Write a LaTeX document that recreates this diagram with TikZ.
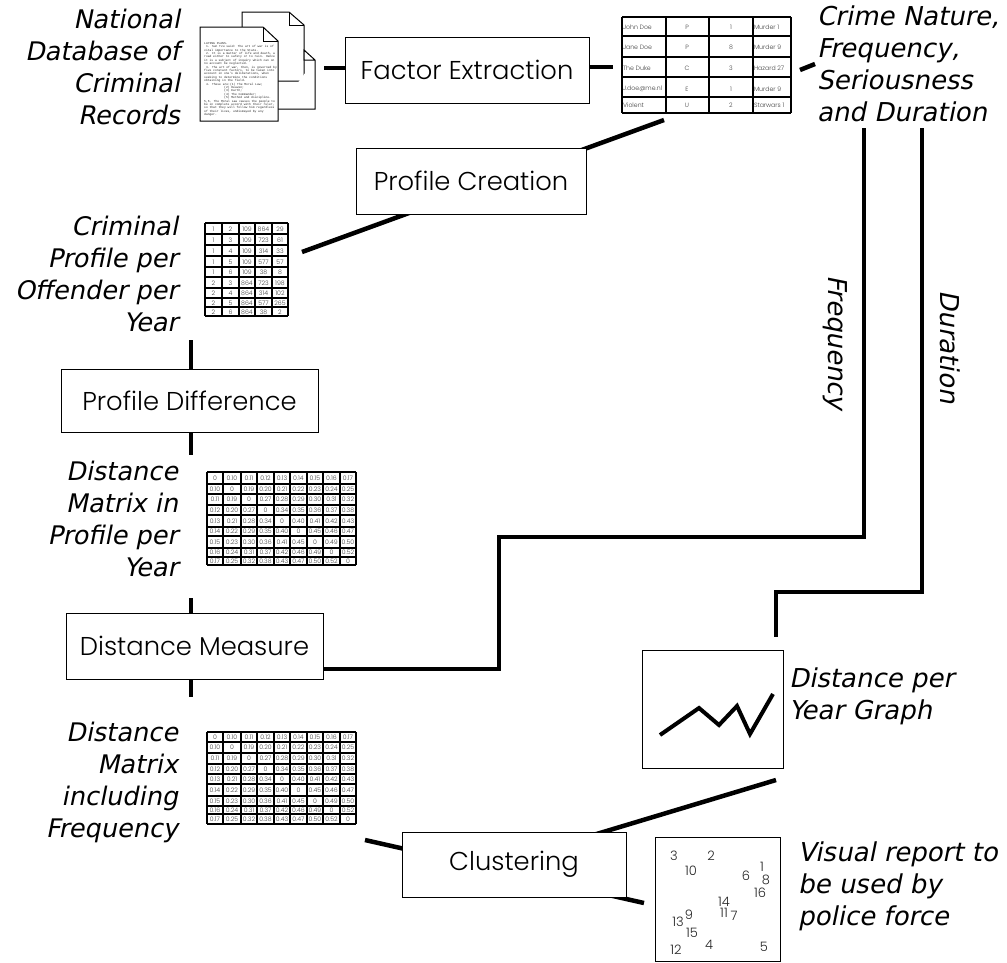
\documentclass[tikz,border=0pt]{standalone}
\usepackage{fontspec}
\newfontfamily\lblfont[FakeSlant=0.2]{DejaVu Sans}
\newfontfamily\boxfont{Poppins Light}
\newfontfamily\docfont{Liberation Mono}
\tikzset{
  x=1pt,y=-1pt,
  labeltext/.style={font=\lblfont\fontsize{26}{32}\selectfont,inner sep=0pt,outer sep=0pt},
  leftlabel/.style={font=\lblfont\fontsize{25.6}{32}\selectfont,inner sep=0pt,outer sep=0pt,align=right,anchor=north east},
  rightlabel/.style={labeltext,align=left,anchor=north west},
  procbox/.style={draw=black,fill=white,line width=1pt,inner sep=0pt,outer sep=0pt,font=\boxfont\fontsize{25.8}{30}\selectfont},
  conn/.style={line width=4.5pt,black,line join=miter},
  page/.style={draw=black,fill=white,line width=1pt},
  grid/.style={line width=1.1pt,black},
  cell/.style={inner sep=0pt,outer sep=0pt,font=\boxfont\fontsize{6.2}{7}\selectfont,text=black!75},
  num/.style={inner sep=0pt,outer sep=0pt,font=\boxfont\fontsize{13}{14}\selectfont,text=black!85},
}
\begin{document}
\begin{tikzpicture}
\useasboundingbox (0,0) rectangle (1007,962);
% free ends
\coordinate (docR) at (324,68);
\coordinate (tabL) at (613,67);
\coordinate (tabB) at (664,120);
\coordinate (profT) at (302,252);
\coordinate (tabR) at (800,70);
\coordinate (crimeL) at (815,64);
\coordinate (pd1) at (191,340);
\coordinate (pd2) at (191,455);
\coordinate (dm1) at (191,598);
\coordinate (dm2) at (191,697);
\coordinate (fTop) at (864,128);
\coordinate (fA) at (864,537);
\coordinate (fB) at (499,537);
\coordinate (fC) at (499,669);
\coordinate (dTop) at (922,128);
\coordinate (dA) at (922,592);
\coordinate (dB) at (776,592);
\coordinate (dC) at (776,637);
\coordinate (gB) at (776,780);
\coordinate (clA) at (365,840);
\coordinate (clB) at (644,903);
\coordinate (clC) at (570,842);
% boxes' connectors (behind the boxes)
\draw[conn] (profT) -- (tabB);
\draw[conn] (clA) -- (clB);
\draw[conn] (gB) -- (clC);
% boxes
\node[procbox,minimum width=244pt,minimum height=66pt] (factor) at (467,70) {Factor Extraction};
\node[procbox,minimum width=230pt,minimum height=66pt] (create) at (471,181) {Profile Creation};
\node[procbox,minimum width=257pt,minimum height=63pt] (diff) at (189.5,400.5) {Profile Difference};
\node[procbox,minimum width=257pt,minimum height=66pt] (measure) at (194.5,646) {Distance Measure};
\node[procbox,minimum width=224pt,minimum height=65pt] (cluster) at (514,864.5) {Clustering};
% connectors
\draw[conn] (docR) -- (docR -| factor.west);
\draw[conn] (factor.east |- tabL) -- (tabL);
\draw[conn] (tabR) -- (crimeL);
\draw[conn] (pd1) -- (pd1 |- diff.north);
\draw[conn] (pd2 |- diff.south) -- (pd2);
\draw[conn] (dm1) -- (dm1 |- measure.north);
\draw[conn] (dm2 |- measure.south) -- (dm2);
\draw[conn] (fTop) -- (fA) -- (fB) -- (fC) -- (fC -| measure.east);
\draw[conn] (dTop) -- (dA) -- (dB) -- (dC);
% documents
\draw[page] (242,81) -- (242,12) -- (289,12) -- (304,25) -- (304,81) -- cycle;
\draw[line width=1pt] (289,12) -- (289,25) -- (304,25);
\draw[page] (278,109) -- (315,109) -- (315,60) -- (304,50) -- (304,60) -- (315,60);
\draw[page] (200,27) -- (263,27) -- (278,41) -- (278,121) -- (200,121) -- cycle;
\draw[line width=1pt] (263,27) -- (263,41) -- (278,41);
\node[inner sep=0pt,anchor=north west,align=left,text=black!85,font=\docfont\fontsize{3}{3.4}\selectfont] (doctext) at (204,42) {LAYING PLANS.\\
\hspace*{1.8pt}1. Sun Tzu said: The art of war is of\\
vital importance to the State.\\
\hspace*{1.8pt}2. It is a matter of life and death, a\\
road either to safety or to ruin. Hence\\
it is a subject of inquiry which can on\\
no account be neglected.\\
\hspace*{1.8pt}3. The art of war, then, is governed by\\
five constant factors, to be taken into\\
account in one's deliberations, when\\
seeking to determine the conditions\\
obtaining in the field.\\
\hspace*{1.8pt}4. These are:(1) The Moral Law;\\
\hspace*{20pt}(2) Heaven;\\
\hspace*{20pt}(3) Earth;\\
\hspace*{20pt}(4) The Commander;\\
\hspace*{20pt}(5) Method and discipline.\\
5,6. The Moral Law causes the people to\\
be in complete accord with their ruler,\\
so that they will follow him regardless\\
of their lives, undismayed by any\\
danger.};
% table 1
\foreach \v in {622,666,709,753,791} \draw[grid] (\v,17) -- (\v,113);
\foreach \h in {17,36,57,77,97,113} \draw[grid] (622,\h) -- (791,\h);
\foreach \cy/\a/\b/\c/\d in {27/John Doe/P/1/Murder 1,47/Jane Doe/P/8/Murder 9,68/The Duke/C/3/Hazard 27,89/J.doe@me.nl/E/1/Murder 9,105/Violent/U/2/Starwars 1}{
  \node[cell,anchor=west] (ta\cy) at (623,\cy) {\a};
  \node[cell] (tb\cy) at (687,\cy) {\b};
  \node[cell] (tc\cy) at (731,\cy) {\c};
  \node[cell,anchor=west] (td\cy) at (754,\cy) {\d};
}
% table 2
\foreach \v in {205,222,239,255,272,288} \draw[grid] (\v,223) -- (\v,316);
\foreach \h in {223,234,245,256,267,277,288,298,307,316} \draw[grid] (205,\h) -- (288,\h);
\foreach \cy/\row in {229/{1,2,109,864,29},240/{1,3,109,723,61},251/{1,4,109,314,33},262/{1,5,109,577,57},272/{1,6,109,38,8},283/{2,3,864,723,198},293/{2,4,864,314,102},303/{2,5,864,577,265},312/{2,6,864,38,2}}{
  \foreach \t [count=\c] in \row {
    \pgfmathsetmacro\cx{{213.5,230.5,247,263.5,280}[\c-1]}
    \node[cell] (tp\cy-\c) at (\cx,\cy) {\t};
  }
}
% matrix 1
\foreach \v in {207,223,241,257,274,290,307,323,340,356} \draw[grid] (\v,472) -- (\v,565);
\foreach \h in {472,484,494,505,515,527,536,548,557,565} \draw[grid] (207,\h) -- (356,\h);
\foreach \cy/\row in {478/{0,0.10,0.11,0.12,0.13,0.14,0.15,0.16,0.17},489/{0.10,0,0.19,0.20,0.21,0.22,0.23,0.24,0.25},499.5/{0.11,0.19,0,0.27,0.28,0.29,0.30,0.31,0.32},510/{0.12,0.20,0.27,0,0.34,0.35,0.36,0.37,0.38},521/{0.13,0.21,0.28,0.34,0,0.40,0.41,0.42,0.43},531.5/{0.14,0.22,0.29,0.35,0.40,0,0.45,0.46,0.47},542/{0.15,0.23,0.30,0.36,0.41,0.45,0,0.49,0.50},552.5/{0.16,0.24,0.31,0.37,0.42,0.46,0.49,0,0.52},561/{0.17,0.25,0.32,0.38,0.43,0.47,0.50,0.52,0}}{
  \foreach \t [count=\c] in \row {
    \pgfmathsetmacro\cx{{215,232,249,265.5,282,298.5,315,331.5,348}[\c-1]}
    \node[cell] (ma\cy-\c) at (\cx,\cy) {\t};
  }
}
% matrix 2
\foreach \v in {207,223,241,257,274,290,307,323,340,356} \draw[grid] (\v,732) -- (\v,824);
\foreach \h in {732,742,753,764,774,784,796,806,814,824} \draw[grid] (207,\h) -- (356,\h);
\foreach \cy/\row in {737/{0,0.10,0.11,0.12,0.13,0.14,0.15,0.16,0.17},747.5/{0.10,0,0.19,0.20,0.21,0.22,0.23,0.24,0.25},758.5/{0.11,0.19,0,0.27,0.28,0.29,0.30,0.31,0.32},769/{0.12,0.20,0.27,0,0.34,0.35,0.36,0.37,0.38},779/{0.13,0.21,0.28,0.34,0,0.40,0.41,0.42,0.43},790/{0.14,0.22,0.29,0.35,0.40,0,0.45,0.46,0.47},801/{0.15,0.23,0.30,0.36,0.41,0.45,0,0.49,0.50},810/{0.16,0.24,0.31,0.37,0.42,0.46,0.49,0,0.52},819/{0.17,0.25,0.32,0.38,0.43,0.47,0.50,0.52,0}}{
  \foreach \t [count=\c] in \row {
    \pgfmathsetmacro\cx{{215,232,249,265.5,282,298.5,315,331.5,348}[\c-1]}
    \node[cell] (mb\cy-\c) at (\cx,\cy) {\t};
  }
}
% graph
\node[draw=black,fill=white,line width=1pt,minimum width=141pt,minimum height=118pt,inner sep=0pt,outer sep=0pt] (graph) at (712.5,709) {};
\draw[line width=4pt,line join=miter] (660,735) -- (699,708) -- (719,725) -- (737,706) -- (750,734) -- (773,694);
% report
\node[draw=black,fill=white,line width=1pt,minimum width=125pt,minimum height=124pt,inner sep=0pt,outer sep=0pt] (report) at (717.5,899) {};
\foreach \t/\p/\q in {3/674/856,2/711/856,10/691/871,6/746/876,1/762/867,8/766/880,16/760/893,14/724/902,11/724/913,7/734/916,9/689/915,13/678/922,15/692/933,4/709/945,12/676/950,5/764/947}
  \node[num] (n\t) at (\p,\q) {\t};
% labels
\node[leftlabel] (l1) at (180,9) {National\\Database of\\Criminal\\Records};
\node[leftlabel] (l2) at (178,216) {Criminal\\Profile per\\Offender per\\Year};
\node[leftlabel] (l3) at (178,461) {Distance\\Matrix in\\Profile per\\Year};
\node[leftlabel] (l4) at (178,722) {Distance\\Matrix\\including\\Frequency};
\node[rightlabel] (l5) at (817,6) {Crime Nature,\\Frequency,\\Seriousness\\and Duration};
\node[rightlabel] (l6) at (789,668) {Distance per\\Year Graph};
\node[rightlabel] (l7) at (798,842) {Visual report to\\be used by\\police force};
\node[labeltext,rotate=-90] (l8) at (835,343) {Frequency};
\node[labeltext,rotate=-90] (l9) at (950,347) {Duration};
\end{tikzpicture}
\end{document}
